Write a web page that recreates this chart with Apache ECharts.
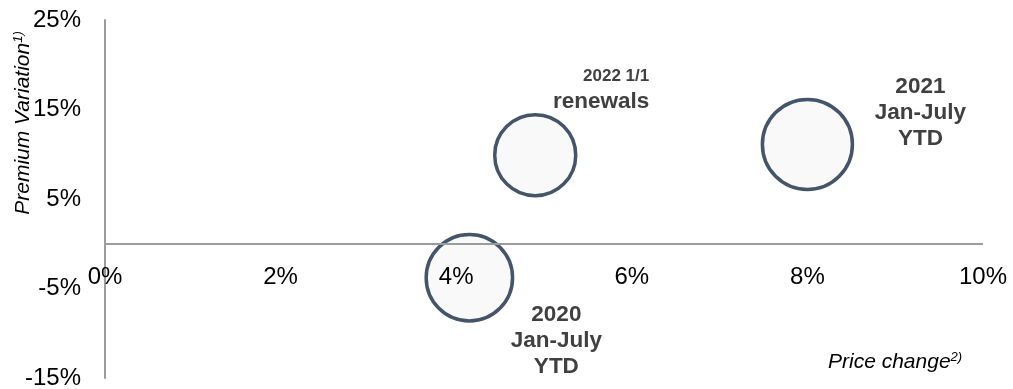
<!DOCTYPE html>
<html>
<head>
<meta charset="utf-8">
<script src="https://cdn.jsdelivr.net/npm/echarts@6/dist/echarts.min.js"></script>
<style>
  html, body { margin: 0; padding: 0; background: #fff; }
  #chart { width: 1013px; height: 389px; }
</style>
</head>
<body>
<div id="chart"></div>
<script>
// data
const periods = ['2022 1/1 renewals', '2021 Jan-July YTD', '2020 Jan-July YTD'];
const priceChange = [4.9, 8.0, 4.15];       // %
const premiumVariation = [9.9, 11.1, -3.8]; // %
const bubbleWeight = [0.90, 1.0, 0.96];     // relative bubble size
const xTicks = [0, 2, 4, 6, 8, 10];
const yTicks = [-15, -5, 5, 15, 25];

const chart = echarts.init(document.getElementById('chart'));

const labelColor = '#404040';
const axisColor = '#9c9c9c';
const font = 'Liberation Sans, Arial, sans-serif';

const labelCfg = [
  { // 2022
    offset: [114, -66], align: 'right',
    formatter: '{s|2022 1/1}\n{b|renewals}'
  },
  { // 2021
    offset: [113, -32], align: 'center',
    formatter: '{b|2021}\n{b|Jan-July}\n{b|YTD}'
  },
  { // 2020
    offset: [87, 63], align: 'center',
    formatter: '{b|2020}\n{b|Jan-July}\n{b|YTD}'
  }
];

const points = periods.map((name, i) => ({
  name,
  value: [priceChange[i], premiumVariation[i], bubbleWeight[i]],
  label: {
    show: true,
    position: 'inside',
    offset: labelCfg[i].offset,
    align: labelCfg[i].align,
    verticalAlign: 'middle',
    formatter: labelCfg[i].formatter,
    rich: {
      s: { fontSize: 17, fontWeight: 'bold', color: labelColor, lineHeight: 25, fontFamily: font },
      b: { fontSize: 22.5, fontWeight: 'bold', color: labelColor, lineHeight: 26, fontFamily: font }
    }
  }
}));

// grid: y from -15 to 25 over 358px -> zero sits 134px above the bottom edge
const gridTop = 20, gridBottom = 11, plotH = 389 - gridTop - gridBottom;
const yMin = -15, yMax = 25;
const zeroShift = Math.round(plotH * (0 - yMin) / (yMax - yMin));

chart.setOption({
  animation: false,
  textStyle: { fontFamily: font },
  grid: { left: 105, right: 30, top: gridTop, bottom: gridBottom, outerBoundsMode: 'none' },
  xAxis: {
    type: 'value', min: 0, max: 10, interval: 2, z: 5,
    position: 'bottom',
    offset: -zeroShift,
    // line is drawn by the markLine below so the bubbles can cover it
    axisLine: { show: false, onZero: false },
    axisTick: { show: false },
    axisLabel: { margin: 21, fontSize: 24, color: '#000', formatter: '{value}%' },
    splitLine: { show: false }
  },
  yAxis: {
    type: 'value', min: yMin, max: yMax,
    axisLine: { show: true, lineStyle: { color: axisColor, width: 2 } },
    axisTick: { show: false },
    axisLabel: { margin: 24, fontSize: 24, color: '#000', formatter: '{value}%', customValues: yTicks },
    splitLine: { show: false }
  },
  graphic: [{
    type: 'text',
    x: 23, y: 123,
    rotation: Math.PI / 2,
    style: {
      text: '{t|Premium Variation}{sup|1)}',
      align: 'center', verticalAlign: 'middle',
      rich: {
        t: { fontSize: 21, fontStyle: 'italic', fill: '#000', fontFamily: font },
        sup: { fontSize: 13, fontStyle: 'italic', fill: '#000', fontFamily: font, padding: [0, 0, 10, 0] }
      }
    }
  }, {
    type: 'text',
    x: 828, y: 362,
    style: {
      text: '{t|Price change}{sup|2)}',
      align: 'left', verticalAlign: 'middle',
      rich: {
        t: { fontSize: 21, fontStyle: 'italic', fill: '#000', fontFamily: font },
        sup: { fontSize: 13, fontStyle: 'italic', fill: '#000', fontFamily: font, padding: [0, 0, 10, 0] }
      }
    }
  }],
  series: [{
    type: 'scatter',
    z: 1,
    data: [],
    markLine: {
      silent: true,
      symbol: 'none',
      label: { show: false },
      lineStyle: { color: axisColor, width: 2, type: 'solid' },
      data: [{ yAxis: 0 }]
    }
  }, {
    type: 'scatter',
    z: 2,
    symbol: 'circle',
    symbolSize: v => v[2] * 90,
    itemStyle: { color: '#f9f9f9', borderColor: '#44546a', borderWidth: 3.5, opacity: 1 },
    emphasis: { disabled: true },
    data: points
  }]
});
</script>
</body>
</html>
